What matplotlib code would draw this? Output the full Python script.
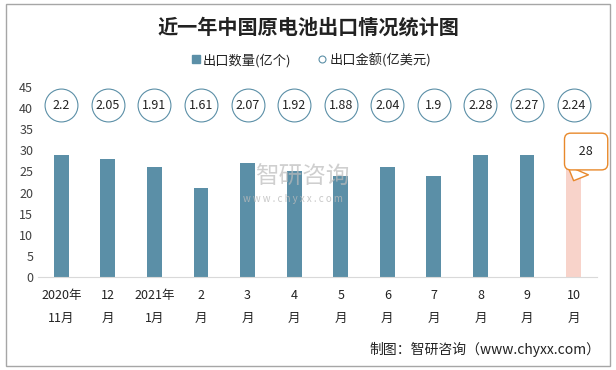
import matplotlib
matplotlib.use('Agg')
import matplotlib.pyplot as plt
from matplotlib.patches import Rectangle
from matplotlib.lines import Line2D

plt.rcParams['font.family'] = ['Noto Sans CJK SC', 'DejaVu Sans']

months = ['2020年\n11月', '12\n月', '2021年\n1月', '2\n月', '3\n月', '4\n月',
          '5\n月', '6\n月', '7\n月', '8\n月', '9\n月', '10\n月']
quantity = [29, 28, 26, 21, 27, 25, 24, 26, 24, 29, 29, 28]
amount = [2.2, 2.05, 1.91, 1.61, 2.07, 1.92, 1.88, 2.04, 1.9, 2.28, 2.27, 2.24]
circle_row = 40.7  # amounts are shown as a row of labelled circles

bar_color = '#5B8FA7'
last_color = '#F8D3CA'
text_color = '#404040'

fig = plt.figure(figsize=(6.16, 3.70), dpi=100)
ax = fig.add_axes([0.0617, 0.2514, 0.9073, 0.5136])

x = list(range(len(months)))
colors = [bar_color] * (len(months) - 1) + [last_color]
ax.bar(x, quantity, width=0.32, color=colors, zorder=2)

ax.scatter(x, [circle_row] * len(x), s=560, facecolor='white',
           edgecolor='#5B8FA7', linewidth=0.8, zorder=3)
for i, a in enumerate(amount):
    ax.text(i, circle_row, str(a), ha='center', va='center', fontsize=9,
            color='#222222', zorder=4)

# callout on the latest month
ax.annotate(' ' + str(quantity[-1]) + ' ', xy=(x[-1], quantity[-1] - 5.2),
            xytext=(9, 21), textcoords='offset points',
            ha='center', va='center', fontsize=9, color='#222222',
            bbox=dict(boxstyle='round,pad=0.95,rounding_size=0.5', fc='white',
                      ec='#E8892B', lw=1),
            arrowprops=dict(arrowstyle='wedge,tail_width=1.8,shrink_factor=0.5',
                            fc='white', ec='#E8892B', lw=1, shrinkA=0, shrinkB=0),
            zorder=5)

ax.set_xlim(-0.5, len(months) - 0.5)
ax.set_ylim(0, 45)
ax.set_yticks(range(0, 50, 5))
ax.set_xticks(x)
ax.set_xticklabels(months, fontsize=9.5, color='#222222', linespacing=1.9)
ax.tick_params(axis='both', length=0, colors=text_color, labelsize=9)
ax.tick_params(axis='x', pad=9, labelcolor='#222222')
for side in ['top', 'right', 'left']:
    ax.spines[side].set_visible(False)
ax.spines['bottom'].set_color('#D9D9D9')

# watermark
fig.text(0.49, 0.52, '智研咨询', fontsize=17, color='#BBBBBB', alpha=0.7,
         ha='center', va='center')
fig.text(0.475, 0.463, 'w w w . c h y x x . c o m', fontsize=7, color='#BBBBBB',
         alpha=0.8, ha='center', va='center')

fig.text(0.5, 0.927, '近一年中国原电池出口情况统计图', fontsize=14.5,
         fontweight='bold', ha='center', va='center', color='#222222')

handles = [Line2D([], [], marker='s', linestyle='none', color=bar_color, markersize=6),
           Line2D([], [], marker='o', linestyle='none', markerfacecolor='white',
                  markeredgecolor=bar_color, markersize=5, markeredgewidth=0.8)]
fig.legend(handles, ['出口数量(亿个)', '出口金额(亿美元)'], loc='center',
           bbox_to_anchor=(0.505, 0.838), ncol=2, frameon=False, fontsize=9.5,
           handlelength=0.7, handletextpad=0.2, columnspacing=2.0,
           labelcolor='#222222')

fig.text(0.975, 0.055, '制图：智研咨询（www.chyxx.com）', fontsize=10,
         ha='right', va='center', color='#222222')

fig.patches.append(Rectangle((0.009, 0.01), 0.982, 0.98, transform=fig.transFigure,
                             fill=False, ec='#A6A6A6', lw=1))

fig.savefig('out.png', dpi=100)
